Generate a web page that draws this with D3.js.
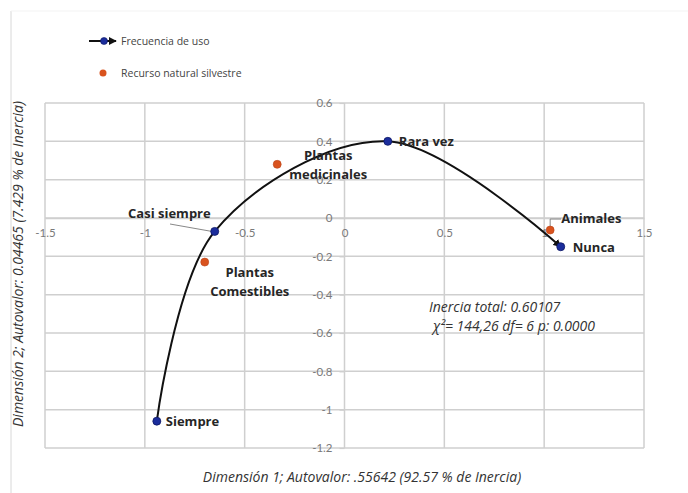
<!DOCTYPE html>
<html>
<head>
<meta charset="utf-8">
<script src="https://cdn.jsdelivr.net/npm/d3@7"></script>
<style>
  html, body { margin: 0; padding: 0; background: #fff; }
  svg { display: block; font-family: "Open Sans", Lato, sans-serif; }
</style>
</head>
<body>
<svg id="chart" width="688" height="493"></svg>
<script>
// Frequency-of-use categories (joined by the smoothed path, in order)
const freqLabels = ["Siempre", "Casi siempre", "Rara vez", "Nunca"];
const freqX = [-0.94, -0.65, 0.217, 1.083];
const freqY = [-1.06, -0.07, 0.40, -0.15];

// Wild natural resources (isolated points)
const resLabels = ["Plantas\nmedicinales", "Plantas\nComestibles", "Animales"];
const resX = [-0.337, -0.70, 1.03];
const resY = [0.28, -0.23, -0.063];

const xTicks = [-1.5, -1, -0.5, 0, 0.5, 1, 1.5];
const yTicks = [0.6, 0.4, 0.2, 0, -0.2, -0.4, -0.6, -0.8, -1, -1.2];

const svg = d3.select("#chart");
const x = d3.scaleLinear().domain([-1.5, 1.5]).range([45, 644]);
const y = d3.scaleLinear().domain([-1.2, 0.6]).range([448, 103]);

const gridColor = "#cfcfcf";
const tickColor = "#7a7a7a";
const blue = "#1b2d9c";
const orange = "#d9531e";
const textFont = "'Open Sans', Lato, sans-serif";

// faint outer frame
svg.append("line").attr("x1", 11).attr("x2", 11).attr("y1", 11).attr("y2", 493)
  .attr("stroke", "#d8d8d8").attr("stroke-width", 1);
svg.append("line").attr("x1", 11).attr("x2", 688).attr("y1", 11).attr("y2", 11)
  .attr("stroke", "#f3f3f3").attr("stroke-width", 1);

// grid
const grid = svg.append("g");
grid.selectAll("line.v").data(xTicks).join("line")
  .attr("x1", d => x(d)).attr("x2", d => x(d))
  .attr("y1", y(0.6)).attr("y2", y(-1.2))
  .attr("stroke", gridColor).attr("stroke-width", 1.5);
grid.selectAll("line.h").data(yTicks).join("line")
  .attr("y1", d => y(d)).attr("y2", d => y(d))
  .attr("x1", x(-1.5)).attr("x2", x(1.5))
  .attr("stroke", gridColor).attr("stroke-width", 1.5);

// axes crossing at the origin
const fmt = d => (d < 0 ? "-" : "") + String(Math.abs(d));
const xAxis = d3.axisBottom(x).tickValues(xTicks).tickSize(0).tickPadding(11)
  .tickFormat(fmt);
const yAxis = d3.axisLeft(y).tickValues(yTicks).tickSize(5).tickPadding(3)
  .tickFormat(fmt);

const gx = svg.append("g").attr("transform", `translate(0,${y(0)})`).call(xAxis);
gx.select(".domain").attr("stroke", gridColor).attr("stroke-width", 1.5);
gx.selectAll("text").attr("fill", tickColor).attr("font-size", 11.5)
  .attr("font-family", "Lato, sans-serif");

const gy = svg.append("g").attr("transform", `translate(${x(0) - 4},0)`).call(yAxis);
gy.select(".domain").remove();
gy.selectAll("line").attr("stroke", gridColor).attr("stroke-width", 1.2)
  .attr("transform", "translate(4,0)");
gy.selectAll("text").attr("fill", tickColor).attr("font-size", 11.5)
  .attr("font-family", "Lato, sans-serif");

// arrow marker
const defs = svg.append("defs");
defs.append("marker").attr("id", "arrow")
  .attr("viewBox", "0 0 10 10").attr("refX", 9).attr("refY", 5)
  .attr("markerWidth", 4).attr("markerHeight", 4)
  .attr("orient", "auto")
  .append("path").attr("d", "M0,0 L10,5 L0,10 Z").attr("fill", "#111");

// smoothed frequency path
const freqPts = freqX.map((v, i) => [v, freqY[i]]);
const line = d3.line().x(d => x(d[0])).y(d => y(d[1]))
  .curve(d3.curveCardinal.tension(0));
svg.append("path").datum(freqPts)
  .attr("d", line)
  .attr("fill", "none").attr("stroke", "#111").attr("stroke-width", 2)
  .attr("marker-end", "url(#arrow)");

// leader lines
svg.append("line")
  .attr("x1", 170).attr("y1", 224).attr("x2", x(freqX[1]) - 3).attr("y2", y(freqY[1]))
  .attr("stroke", "#888").attr("stroke-width", 1);
svg.append("path")
  .attr("d", `M${x(resX[2])},${y(resY[2]) - 4} V219 H561`)
  .attr("fill", "none").attr("stroke", "#888").attr("stroke-width", 1);

// points
svg.append("g").selectAll("circle").data(freqPts).join("circle")
  .attr("cx", d => x(d[0])).attr("cy", d => y(d[1])).attr("r", 4)
  .attr("fill", blue).attr("stroke", "#0d1763").attr("stroke-width", 0.8);
svg.append("g").selectAll("circle").data(resX.map((v, i) => [v, resY[i]])).join("circle")
  .attr("cx", d => x(d[0])).attr("cy", d => y(d[1])).attr("r", 4)
  .attr("fill", orange).attr("stroke", "#b8431a").attr("stroke-width", 0.6);

// point labels
const labelStyle = s => s.attr("font-weight", 700).attr("font-size", 13)
  .attr("fill", "#262626").attr("font-family", textFont);

const freqOffsets = [[9, 5, "start"], [-4, -13, "end"], [11, 5, "start"], [12, 5, "start"]];
freqLabels.forEach((t, i) => {
  const [dx, dy, anchor] = freqOffsets[i];
  svg.append("text").attr("x", x(freqX[i]) + dx).attr("y", y(freqY[i]) + dy)
    .attr("text-anchor", anchor).text(t).call(labelStyle);
});

const resOffsets = [[51, -4], [45, 15], [11, -7]];
resLabels.forEach((t, i) => {
  const [dx, dy] = resOffsets[i];
  const parts = t.split("\n");
  const txt = svg.append("text")
    .attr("x", x(resX[i]) + dx).attr("y", y(resY[i]) + dy)
    .attr("text-anchor", parts.length > 1 ? "middle" : "start")
    .call(labelStyle);
  parts.forEach((p, j) => {
    txt.append("tspan").attr("x", x(resX[i]) + dx).attr("dy", j === 0 ? 0 : 19).text(p);
  });
});

// annotation
const note = svg.append("g").attr("font-style", "italic").attr("font-size", 14)
  .attr("fill", "#333").attr("font-family", textFont);
note.append("text").attr("x", 429).attr("y", 312).text("Inercia total: 0.60107");
note.append("text").attr("x", 433).attr("y", 331).text("χ²= 144,26 df= 6 p: 0.0000");

// axis titles
svg.append("text").attr("x", 362).attr("y", 482).attr("text-anchor", "middle")
  .attr("font-style", "italic").attr("font-size", 14).attr("fill", "#333")
  .attr("font-family", textFont)
  .text("Dimensión 1; Autovalor: .55642 (92.57 % de Inercia)");
svg.append("text")
  .attr("transform", "translate(23,264) rotate(-90)")
  .attr("text-anchor", "middle")
  .attr("font-style", "italic").attr("font-size", 14).attr("fill", "#333")
  .attr("font-family", textFont)
  .text("Dimensión 2; Autovalor: 0.04465 (7.429 % de Inercia)");

// legend
const leg = svg.append("g").attr("font-size", 10.5).attr("fill", "#444")
  .attr("font-family", textFont);
leg.append("line").attr("x1", 89).attr("x2", 116).attr("y1", 41).attr("y2", 41)
  .attr("stroke", "#111").attr("stroke-width", 2).attr("marker-end", "url(#arrow)");
leg.append("circle").attr("cx", 104).attr("cy", 41).attr("r", 3.5)
  .attr("fill", blue).attr("stroke", "#0d1763").attr("stroke-width", 0.6);
leg.append("text").attr("x", 121).attr("y", 45).text("Frecuencia de uso");
leg.append("circle").attr("cx", 103).attr("cy", 73).attr("r", 3.5).attr("fill", orange);
leg.append("text").attr("x", 121).attr("y", 77).text("Recurso natural silvestre");
</script>
</body>
</html>
